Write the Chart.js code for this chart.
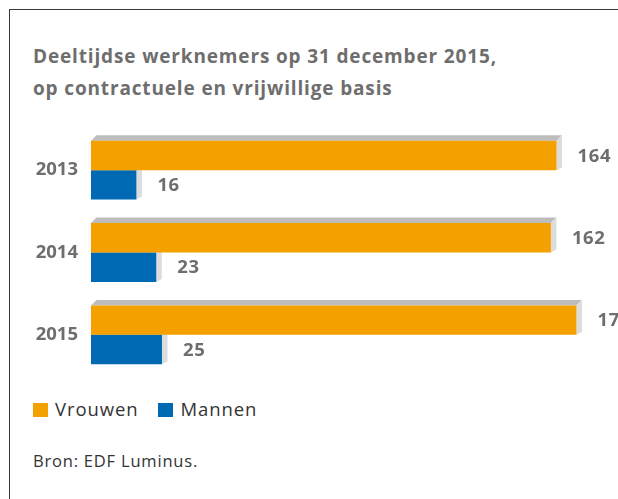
<!DOCTYPE html>
<html>
<head>
<meta charset="utf-8">
<script src="https://cdn.jsdelivr.net/npm/chart.js@4"></script>
<style>
  html, body { margin: 0; padding: 0; background: #fff; }
  body { width: 618px; height: 499px; position: relative; overflow: hidden; font-family: "Open Sans", sans-serif; }
  #frame { position: absolute; left: 9px; top: 9px; right: -5px; bottom: -5px; border-left: 1.5px solid #3a3a3a; border-top: 1.5px solid #3a3a3a; }
  #title { position: absolute; left: 33px; top: 40px; font-weight: bold; font-size: 19px; letter-spacing: 0.85px; line-height: 32px; color: #6e6e6e; white-space: nowrap; }
  #legend { position: absolute; left: 33px; top: 396px; font-size: 18.5px; letter-spacing: 0.9px; color: #333; white-space: nowrap; }
  #legend span.sw { display: inline-block; width: 15px; height: 14px; vertical-align: -1px; margin-right: 7px; }
  #legend span.item { margin-right: 20px; }
  #source { position: absolute; left: 33px; top: 449px; font-size: 16.5px; letter-spacing: 0.8px; color: #333; }
  #chart { position: absolute; left: 0; top: 0; }
</style>
</head>
<body>
<div id="frame"></div>
<div id="title">Deeltijdse werknemers op 31 december 2015,<br>op contractuele en vrijwillige basis</div>
<div id="legend"></div>
<div id="source">Bron: EDF Luminus.</div>
<canvas id="chart" width="618" height="499"></canvas>
<script>
const years = ['2013', '2014', '2015'];
const vrouwen = [164, 162, 171];
const mannen = [16, 23, 25];
const seriesNames = ['Vrouwen', 'Mannen'];
const seriesColors = ['#f4a100', '#0069b4'];

// legend below the chart
const legend = document.querySelector('#legend');
seriesNames.forEach((name, i) => {
    legend.innerHTML += '<span class="item"><span class="sw" style="background:' + seriesColors[i] + '"></span>' + name + '</span>';
});

const depth = 5.5;

// fake 3d look: grey top and side faces behind every bar
const depthFaces = {
    id: 'depthFaces',
    beforeDatasetsDraw(chart) {
        const ctx = chart.ctx;
        ctx.save();
        chart.data.datasets.forEach((ds, di) => {
            chart.getDatasetMeta(di).data.forEach(bar => {
                const top = bar.y - bar.height / 2;
                const bottom = bar.y + bar.height / 2;
                ctx.fillStyle = '#bdbdbd';
                ctx.beginPath();
                ctx.moveTo(bar.base, top);
                ctx.lineTo(bar.base + depth, top - depth);
                ctx.lineTo(bar.x + depth, top - depth);
                ctx.lineTo(bar.x, top);
                ctx.closePath();
                ctx.fill();
                ctx.fillStyle = '#dcdcdc';
                ctx.beginPath();
                ctx.moveTo(bar.x, top);
                ctx.lineTo(bar.x + depth, top - depth);
                ctx.lineTo(bar.x + depth, bottom - 3);
                ctx.lineTo(bar.x, bottom);
                ctx.closePath();
                ctx.fill();
            });
        });
        ctx.restore();
    }
};

// numbers to the right of the bars
const valueLabels = {
    id: 'valueLabels',
    afterDatasetsDraw(chart) {
        const ctx = chart.ctx;
        ctx.save();
        ctx.font = 'bold 18.5px "Open Sans", sans-serif';
        ctx.letterSpacing = '0.6px';
        ctx.fillStyle = '#6e6e6e';
        ctx.textBaseline = 'middle';
        ctx.textAlign = 'left';
        chart.data.datasets.forEach((ds, di) => {
            chart.getDatasetMeta(di).data.forEach((bar, i) => {
                ctx.fillText(ds.data[i], bar.x + 21, bar.y + 1);
            });
        });
        ctx.restore();
    }
};

new Chart(document.querySelector('#chart').getContext('2d'), {
    type: 'bar',
    data: {
        labels: years,
        datasets: [
            { label: seriesNames[0], data: vrouwen, backgroundColor: seriesColors[0] },
            { label: seriesNames[1], data: mannen, backgroundColor: seriesColors[1] }
        ]
    },
    options: {
        indexAxis: 'y',
        responsive: false,
        animation: false,
        events: [],
        categoryPercentage: 0.715,
        barPercentage: 1,
        layout: { padding: { left: 33, right: 16, top: 129, bottom: 123 } },
        scales: {
            x: { display: false, min: 0, max: 180 },
            y: {
                grid: { display: false, drawTicks: false },
                border: { display: false },
                afterFit(scale) { scale.width = 58; },
                ticks: {
                    padding: 13,
                    color: '#6e6e6e',
                    font: { family: 'Open Sans', weight: 'bold', size: 18.5 }
                }
            }
        },
        plugins: {
            legend: { display: false },
            tooltip: { enabled: false }
        }
    },
    plugins: [depthFaces, valueLabels]
});
</script>
</body>
</html>
